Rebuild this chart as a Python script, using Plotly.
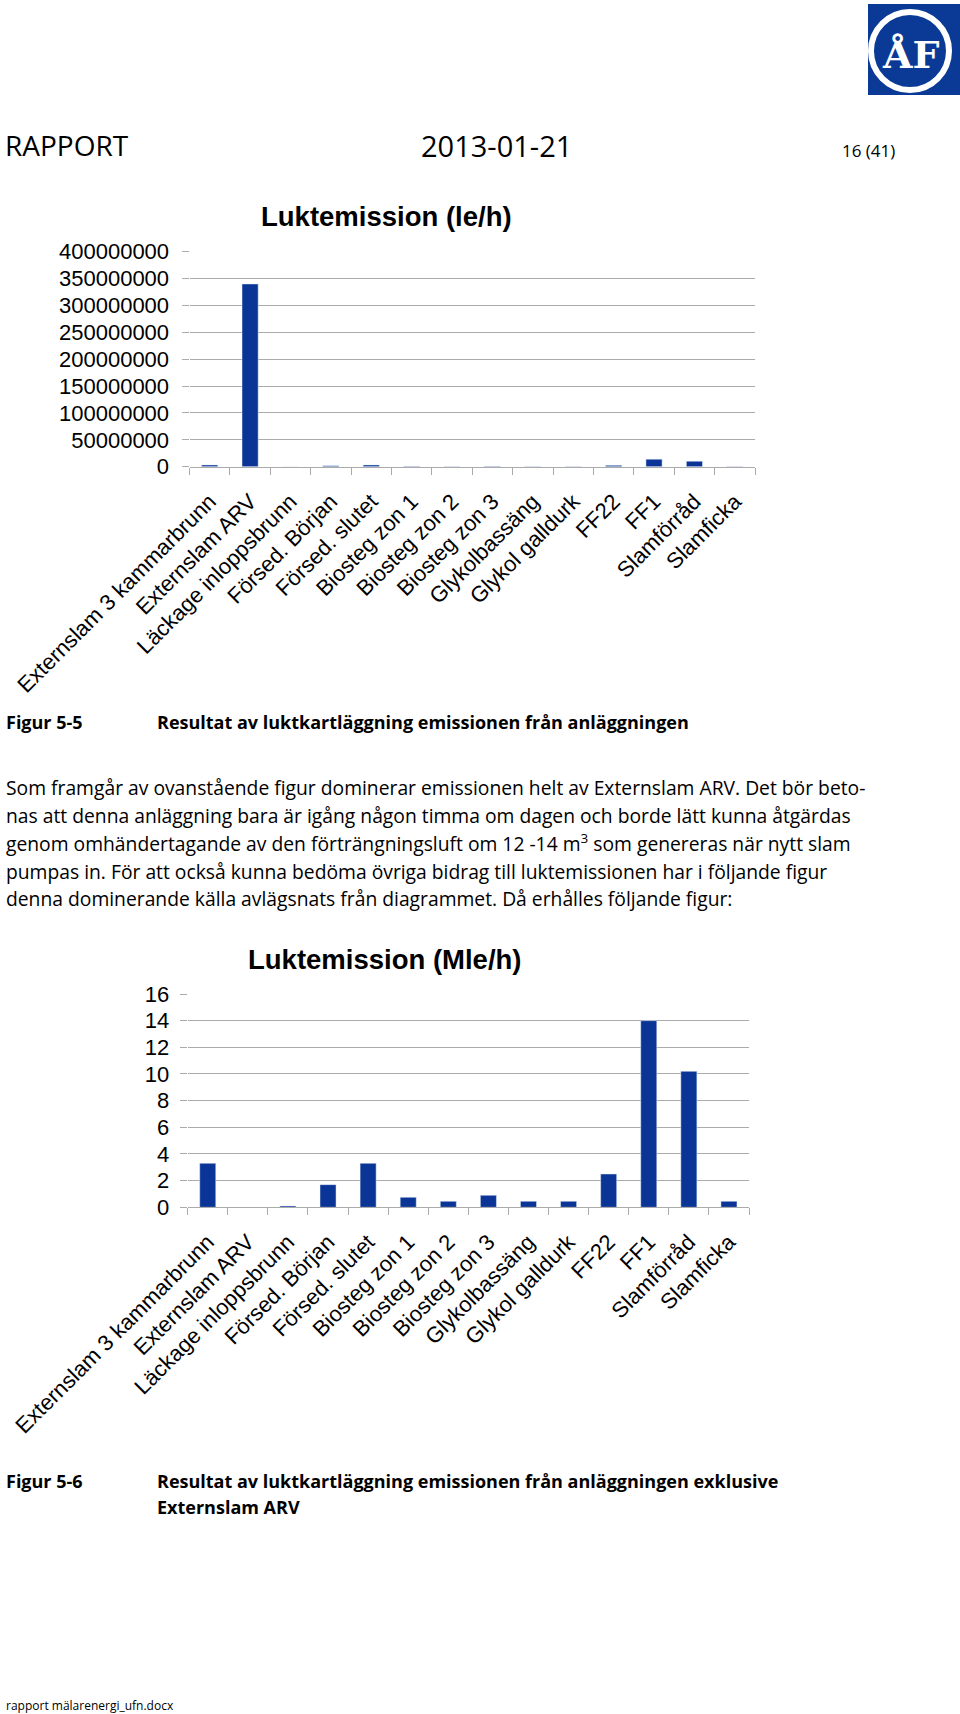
import plotly.graph_objects as go

# ---------------- data ----------------
categories = [
    "Externslam 3 kammarbrunn", "Externslam ARV", "Läckage inloppsbrunn",
    "Försed. Början", "Försed. slutet", "Biosteg zon 1", "Biosteg zon 2",
    "Biosteg zon 3", "Glykolbassäng", "Glykol galldurk", "FF22", "FF1",
    "Slamförråd", "Slamficka",
]
emission_le_h = [3.3e6, 340e6, 0.1e6, 1.7e6, 3.3e6, 0.75e6, 0.45e6, 0.9e6,
                 0.45e6, 0.45e6, 2.5e6, 14.0e6, 10.2e6, 0.45e6]
emission_mle_h = [3.3, None, 0.1, 1.7, 3.3, 0.75, 0.45, 0.9,
                  0.45, 0.45, 2.5, 14.0, 10.2, 0.45]
y1_ticks = [0, 50e6, 100e6, 150e6, 200e6, 250e6, 300e6, 350e6, 400e6]
y2_ticks = [0, 2, 4, 6, 8, 10, 12, 14, 16]

W, H = 960, 1714
BAR = "#0a3597"
GRID = "#ababab"
AX_FONT = dict(family="Liberation Sans, Arial", size=22, color="black")
DOC_FONT = "Open Sans"


def px(x):
    return x / W


def py(y):
    return 1 - y / H


fig = go.Figure()
fig.add_trace(go.Bar(x=categories, y=emission_le_h, marker_color=BAR,
                     xaxis="x", yaxis="y", showlegend=False))
fig.add_trace(go.Bar(x=categories, y=emission_mle_h, marker_color=BAR,
                     xaxis="x2", yaxis="y2", showlegend=False))

xcommon = dict(type="category", showgrid=False, ticks="outside", tickson="boundaries",
               ticklen=7, tickcolor=GRID, tickwidth=1.3, showline=True, linecolor=GRID,
               linewidth=1.3, tickangle=-45, tickfont=AX_FONT, fixedrange=True,
               automargin=False, ticklabelstandoff=12)
ycommon = dict(showgrid=True, gridcolor=GRID, gridwidth=1.3, ticks="outside", ticklen=7,
               tickcolor=GRID, tickwidth=1.3, showline=False, zeroline=False,
               tickformat="d", tickfont=AX_FONT, fixedrange=True, automargin=False)

fig.update_layout(
    width=W, height=H, margin=dict(l=0, r=0, t=0, b=0, autoexpand=False),
    paper_bgcolor="white", plot_bgcolor="white", bargap=0.6,
    xaxis=dict(domain=[px(189.5), px(755)], anchor="y", **xcommon),
    yaxis=dict(domain=[py(466.7), py(251.7)], anchor="x", range=[0, 400e6],
               tickvals=y1_ticks, ticklabelstandoff=8, **ycommon),
    xaxis2=dict(domain=[px(187.7), px(749)], anchor="y2", **xcommon),
    yaxis2=dict(domain=[py(1207.3), py(994)], anchor="x2", range=[0, 16],
                tickvals=y2_ticks, ticklabelstandoff=6, **ycommon),
)

ann = []


def text(x, y, s, size, bold=False, family=DOC_FONT, xanchor="left", color="black"):
    if bold:
        s = "<b>" + s + "</b>"
    ann.append(dict(x=px(x), y=py(y), xref="paper", yref="paper", text=s,
                    showarrow=False, xanchor=xanchor, yanchor="middle",
                    font=dict(family=family, size=size, color=color)))


# header
text(3, 145, "RAPPORT", 28)
text(496, 145, "2013-01-21", 29, xanchor="center")
text(840, 150, "16 (41)", 17)

# chart titles
text(386, 217, "Luktemission (le/h)", 27.5, bold=True, family="Liberation Sans, Arial",
     xanchor="center")
text(385, 959, "Luktemission (Mle/h)", 27.5, bold=True, family="Liberation Sans, Arial",
     xanchor="center")

# captions
text(4, 722, "Figur 5-5", 18, bold=True)
text(155, 722, "Resultat av luktkartläggning emissionen från anläggningen", 18, bold=True)
text(4, 1481, "Figur 5-6", 18, bold=True)
text(155, 1481, "Resultat av luktkartläggning emissionen från anläggningen exklusive", 18, bold=True)
text(155, 1507, "Externslam ARV", 18, bold=True)

# body text
body = [
    "Som framgår av ovanstående figur dominerar emissionen helt av Externslam ARV. Det bör beto-",
    "nas att denna anläggning bara är igång någon timma om dagen och borde lätt kunna åtgärdas",
    "genom omhändertagande av den förträngningsluft om 12 -14 m<sup>3</sup> som genereras när nytt slam",
    "pumpas in. För att också kunna bedöma övriga bidrag till luktemissionen har i följande figur",
    "denna dominerande källa avlägsnats från diagrammet. Då erhålles följande figur:",
]
for i, line in enumerate(body):
    text(4, 787 + i * 28, line, 19.3)

# footer
text(4, 1705, "rapport mälarenergi_ufn.docx", 12)

# logo
shapes = [
    dict(type="rect", xref="paper", yref="paper", x0=px(868), x1=px(960),
         y0=py(95), y1=py(4), fillcolor="#0b3a96", line=dict(width=0)),
    dict(type="circle", xref="paper", yref="paper", x0=px(910 - 39), x1=px(910 + 39),
         y0=py(51 + 39), y1=py(51 - 39), line=dict(color="white", width=6)),
]
text(910, 54, "ÅF", 38, bold=True, family="DejaVu Serif", xanchor="center", color="white")

fig.update_layout(annotations=ann, shapes=shapes)
fig.write_html("out.html")
